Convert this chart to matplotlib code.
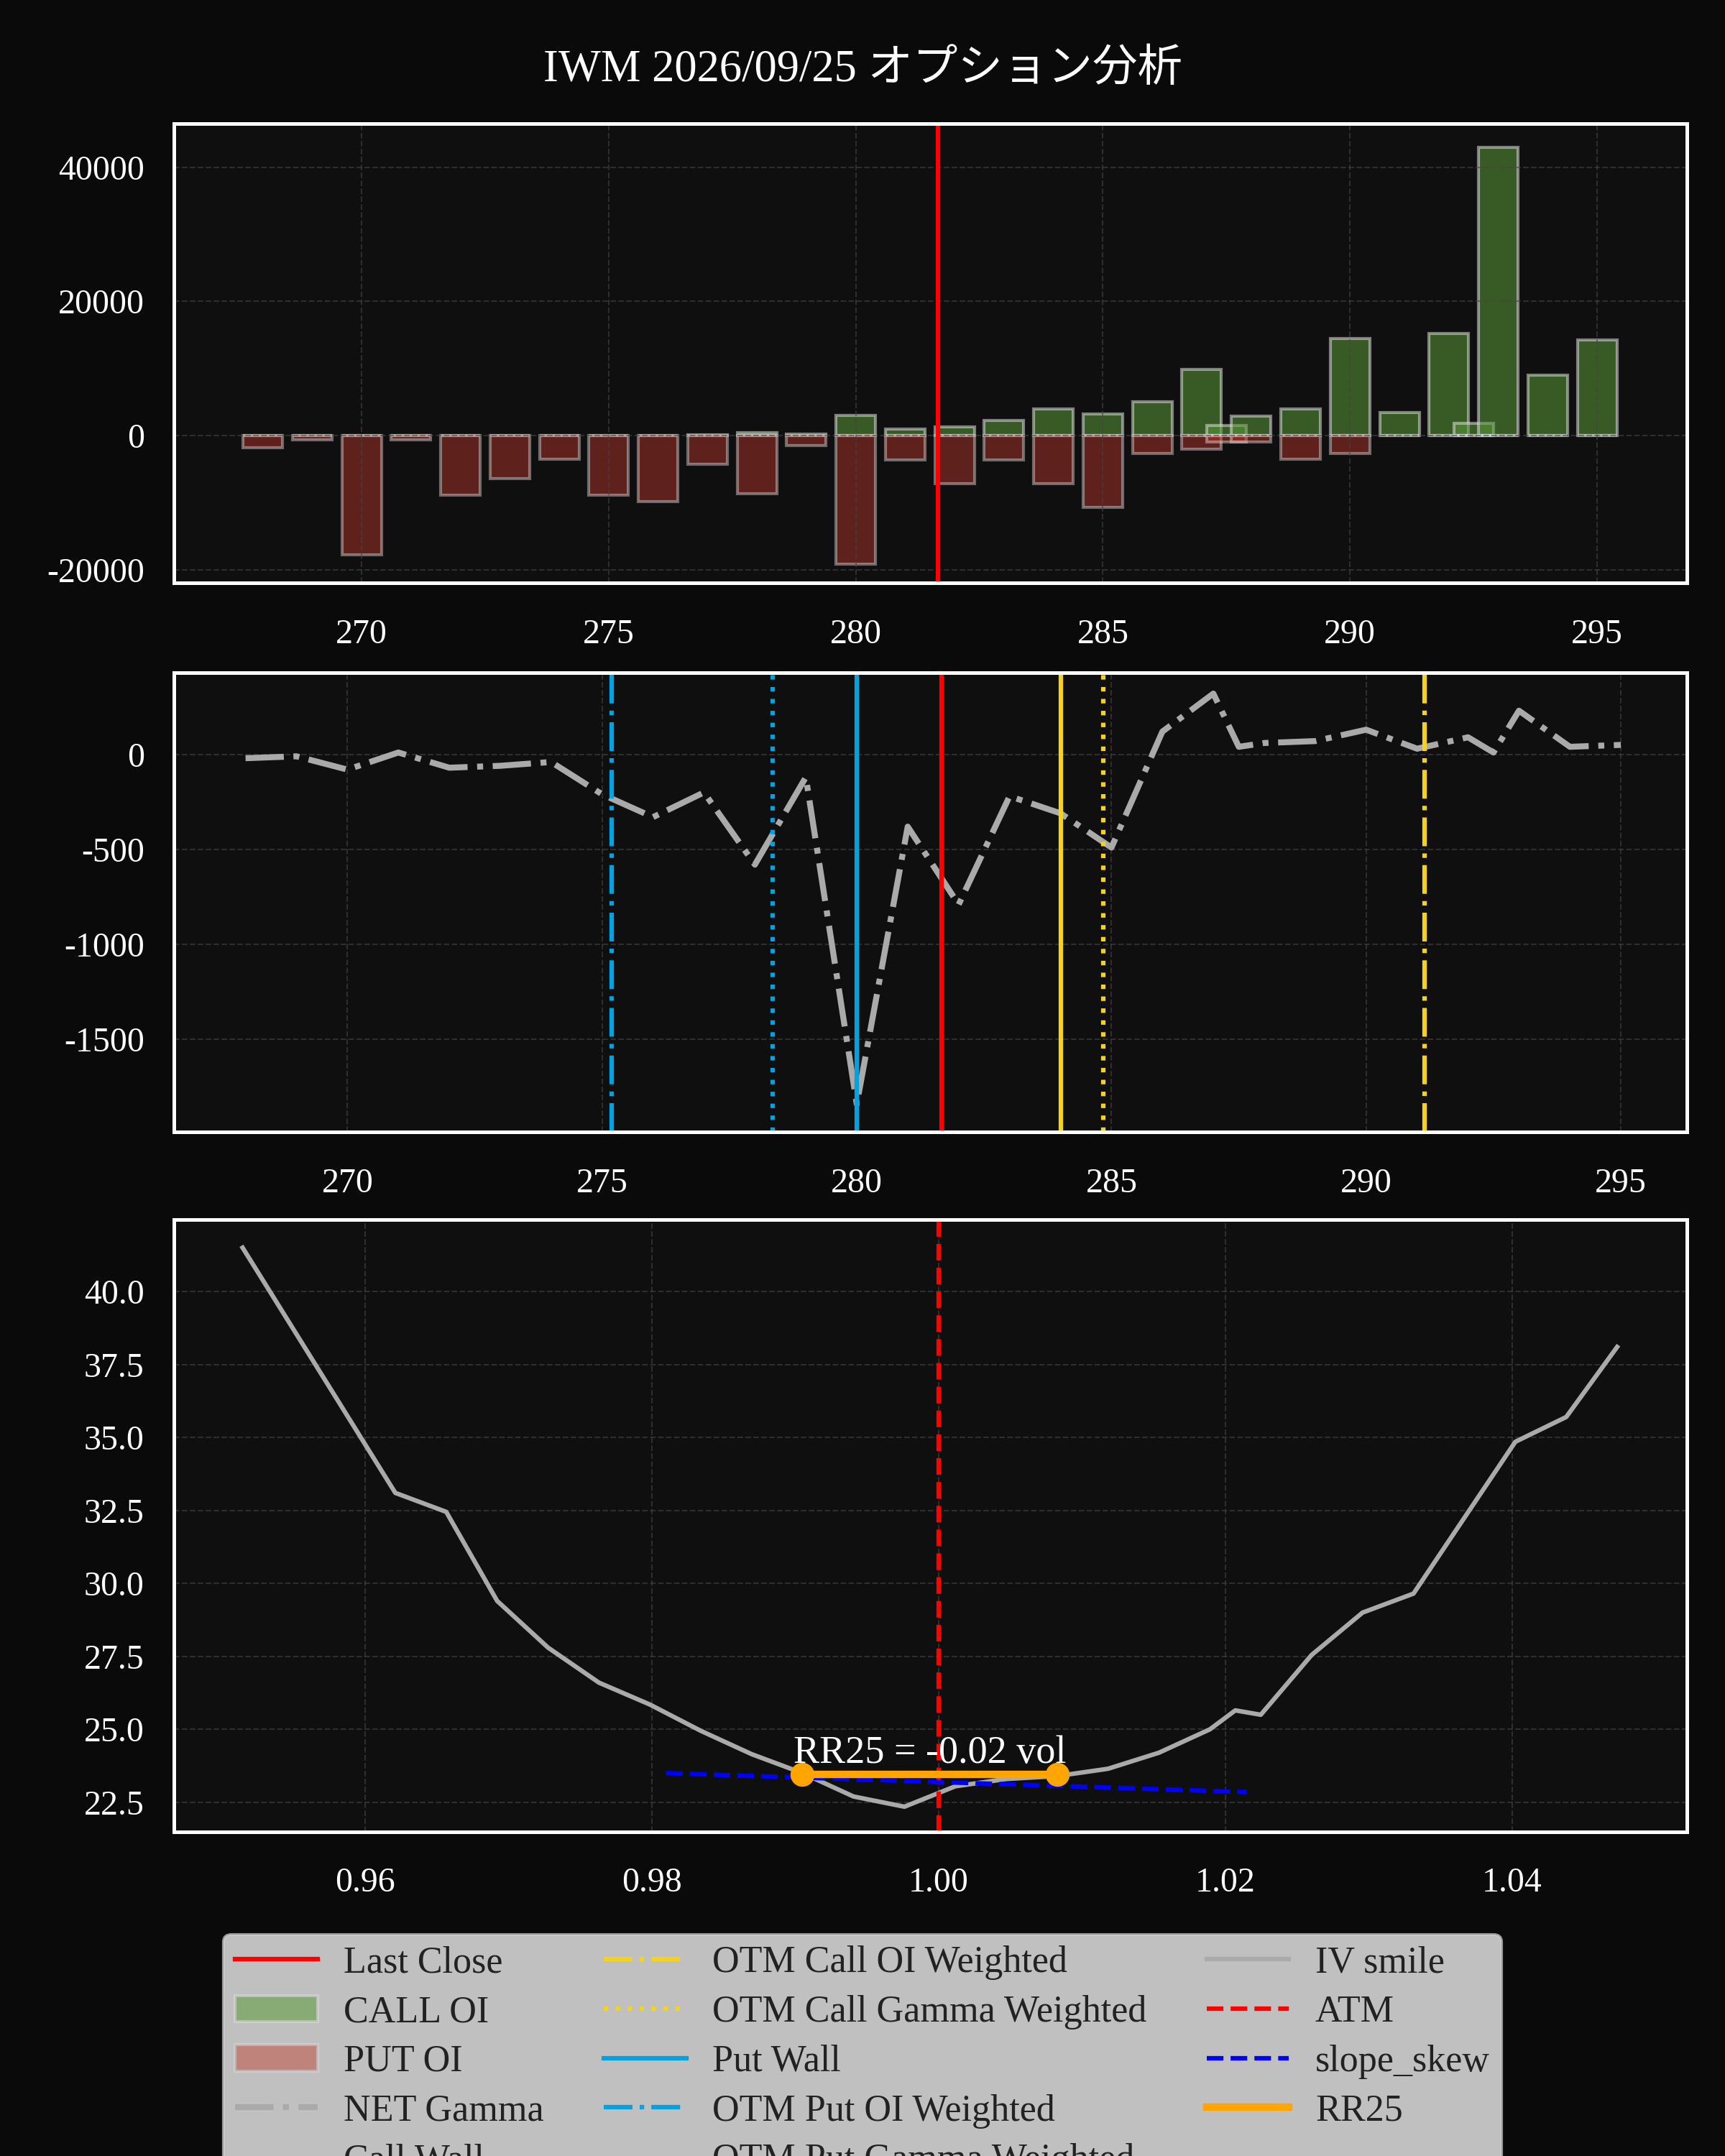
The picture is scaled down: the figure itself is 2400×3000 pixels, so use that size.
import numpy as np
import matplotlib
matplotlib.use("Agg")
import matplotlib.pyplot as plt
from matplotlib.lines import Line2D

plt.rcParams['font.family'] = ['Liberation Serif', 'Noto Sans CJK JP', 'DejaVu Sans']
plt.rcParams['axes.unicode_minus'] = False

last_close = 281.67

# ---------------------------------------------------------------- OI data
strikes = [268, 269, 270, 271, 272, 273, 274, 275, 276, 277, 278, 279, 280, 281, 282, 283, 284, 285,
           286, 287, 287.5, 288, 289, 290, 291, 292, 292.5, 293, 294, 295]
call_oi = [0, 0, 0, 0, 0, 0, 0, 0, 0, 100, 400, 200, 3000, 1000, 1300, 2200, 4000, 3200,
           5000, 9900, 1500, 2900, 4000, 14500, 3400, 15200, 1800, 43000, 9000, 14300]
put_oi = [-1800, -600, -17800, -600, -8900, -6400, -3500, -8900, -9900, -4300, -8700, -1500, -19200, -3700,
          -7200, -3700, -7200, -10700, -2700, -2000, -1000, -1000, -3500, -2700, 0, 0, 0, 0, 0, 0]
net_gamma = [-20, -10, -80, 10, -70, -60, -40, -210, -330, -200, -580, -120, -1840, -380, -790, -220,
             -310, -490, 120, 320, 40, 60, 70, 130, 30, 90, 10, 230, 40, 50]

call_wall = 284.0
put_wall = 280.0
otm_call_oi_w = 291.14
otm_call_gamma_w = 284.84
otm_put_oi_w = 275.19
otm_put_gamma_w = 278.35

# ---------------------------------------------------------------- IV smile
iv_strikes = [268, 271, 272, 273, 274, 275, 276, 277, 278, 279, 280, 281, 282, 283, 284, 285, 286, 287,
              287.5, 288, 289, 290, 291, 293, 294, 295]
iv = [41.5, 33.1, 32.45, 29.4, 27.8, 26.6, 25.85, 24.95, 24.15, 23.5, 22.7, 22.35, 23.05, 23.3, 23.4,
      23.65, 24.2, 25.0, 25.65, 25.5, 27.55, 29.0, 29.65, 34.85, 35.7, 38.1]
skew_x = [0.981, 1.0215]
skew_y = [23.5, 22.85]
rr25_x = [0.9905, 1.0083]
rr25_y = [23.45, 23.45]
rr25_value = -0.02

moneyness = np.array(iv_strikes) / last_close

# ---------------------------------------------------------------- figure
fig = plt.figure(figsize=(8, 10), dpi=300, facecolor='#0a0a0a')
ax1 = fig.add_axes([0.101, 0.7296, 0.877, 0.213])
ax2 = fig.add_axes([0.101, 0.4751, 0.877, 0.2129])
ax3 = fig.add_axes([0.101, 0.1505, 0.877, 0.2838])

for ax in (ax1, ax2, ax3):
    ax.set_facecolor('#0f0f0f')
    for s in ax.spines.values():
        s.set_color('white')
        s.set_linewidth(1.2)
    ax.grid(True, color='#444444', linestyle='--', linewidth=0.5, alpha=0.6)
    ax.tick_params(colors='white', labelsize=11.5, length=0)
    ax.tick_params(axis='x', pad=12)
    ax.tick_params(axis='y', pad=10)

# top: OI bars
h_call = ax1.bar(strikes, call_oi, width=0.8, color='#5a9a3a', alpha=0.55, edgecolor='#dddddd', linewidth=1, label='CALL OI')
h_put = ax1.bar(strikes, put_oi, width=0.8, color='#c0392b', alpha=0.45, edgecolor='#dddddd', linewidth=1, label='PUT OI')
h_last = ax1.axvline(last_close, color='red', linewidth=1.5, label='Last Close')
ax1.set_xlim(266.21, 296.82)
ax1.set_ylim(-22000, 46500)
ax1.set_yticks([-20000, 0, 20000, 40000])

# middle: net gamma
h_gamma, = ax2.plot(strikes, net_gamma, color='#aaaaaa', linestyle='-.', linewidth=2, label='NET Gamma')
ax2.axvline(last_close, color='red', linewidth=1.5)
h_cw = ax2.axvline(call_wall, color='#f5d21f', linewidth=1.5, label='Call Wall')
h_pw = ax2.axvline(put_wall, color='#00a2e0', linewidth=1.5, label='Put Wall')
h_coi = ax2.axvline(otm_call_oi_w, color='#f5d21f', linestyle='-.', linewidth=1.5, label='OTM Call OI Weighted')
h_cg = ax2.axvline(otm_call_gamma_w, color='#f5d21f', linestyle=':', linewidth=1.5, label='OTM Call Gamma Weighted')
h_poi = ax2.axvline(otm_put_oi_w, color='#00a2e0', linestyle='-.', linewidth=1.5, label='OTM Put OI Weighted')
h_pg = ax2.axvline(otm_put_gamma_w, color='#00a2e0', linestyle=':', linewidth=1.5, label='OTM Put Gamma Weighted')
ax2.set_xlim(266.6, 296.3)
ax2.set_ylim(-1985, 430)
ax2.set_yticks([-1500, -1000, -500, 0])

# bottom: IV smile
h_iv, = ax3.plot(moneyness, iv, color='#aaaaaa', linewidth=1.5, label='IV smile')
h_atm = ax3.axvline(1.0, color='red', linestyle='--', linewidth=1.5, label='ATM')
h_skew, = ax3.plot(skew_x, skew_y, color='blue', linestyle='--', linewidth=1.5, label='slope_skew')
ax3.plot(rr25_x, rr25_y, color='orange', linewidth=2.5, marker='o', markersize=7)
h_rr = Line2D([], [], color='orange', linewidth=2.5, label='RR25')
ax3.text(np.mean(rr25_x), rr25_y[0] + 0.1, f'RR25 = {rr25_value:.2f} vol', color='white', fontsize=13,
         ha='center', va='bottom')
ax3.set_xlim(0.9467, 1.0522)
ax3.set_ylim(21.5, 42.46)
ax3.set_xticks([0.96, 0.98, 1.00, 1.02, 1.04])
ax3.set_yticks([22.5, 25, 27.5, 30, 32.5, 35, 37.5, 40])
ax3.yaxis.set_major_formatter(matplotlib.ticker.FormatStrFormatter('%.1f'))
ax3.xaxis.set_major_formatter(matplotlib.ticker.FormatStrFormatter('%.2f'))

fig.suptitle('IWM 2026/09/25 オプション分析', color='white', fontsize=15, y=0.977)

handles = [h_last, h_call, h_put, h_gamma, h_cw, h_coi, h_cg, h_pw, h_poi, h_pg, h_iv, h_atm, h_skew, h_rr]
leg = fig.legend(handles=handles, loc='upper center', bbox_to_anchor=(0.5, 0.1115), ncol=3, fontsize=12.5,
                 facecolor='white', framealpha=0.75, edgecolor='#cccccc', handlelength=2.2,
                 columnspacing=1.6, labelspacing=0.4, borderpad=0.3, handletextpad=0.7)
for t in leg.get_texts():
    t.set_color('#222222')

fig.savefig('out.png', dpi=300, facecolor=fig.get_facecolor())
